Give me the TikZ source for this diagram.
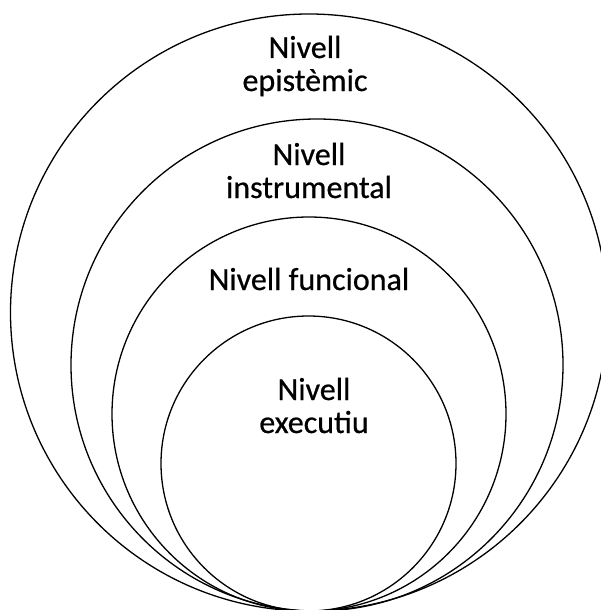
\documentclass[tikz,border=0pt]{standalone}
\usepackage{fontspec}
\setmainfont{Carlito}
\newfontfamily\lblfont{Carlito}[FakeBold=0.6]
\begin{document}
\begin{tikzpicture}[x=1pt,y=-1pt,
  ring/.style={draw=black,line width=1.3pt,circle,inner sep=0pt,minimum size=#1},
  lvl/.style={font=\lblfont\fontsize{32}{33}\selectfont,align=center,anchor=base,inner sep=0pt}]
\useasboundingbox (0,0) rectangle (601,610);
\clip (0,0) rectangle (601,610);
% nested levels, all touching near the bottom
\node[ring=597pt] (epi) at (309,312.5) {};
\node[ring=492pt] (ins) at (317,365) {};
\node[ring=394pt] (fun) at (309,414) {};
\node[ring=295pt] (exe) at (308.5,463.5) {};
% labels (anchored at the baseline of the last line)
\node[lvl] (tepi) at (305,91) {Nivell\\epistèmic};
\node[lvl] (tins) at (309,198) {Nivell\\instrumental};
\node[lvl] (tfun) at (309,290) {Nivell funcional};
\node[lvl] (texe) at (314,433) {Nivell\\executiu};
\end{tikzpicture}
\end{document}
